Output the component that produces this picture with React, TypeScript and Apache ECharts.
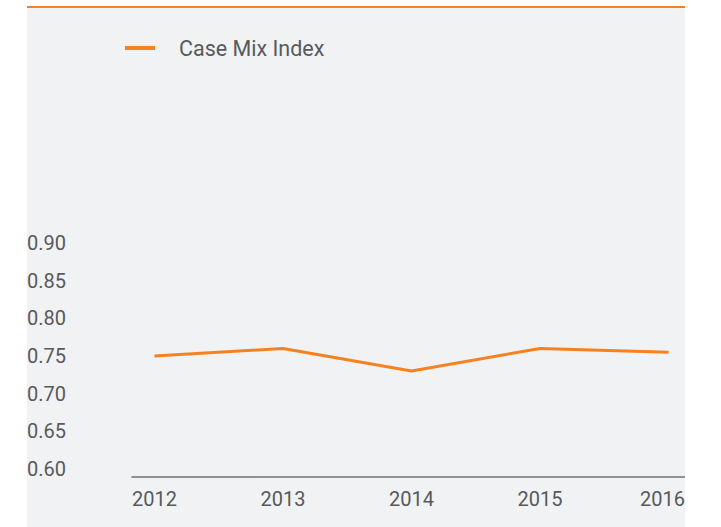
import React, { useEffect, useRef } from "react";
import * as echarts from "echarts";

const years = [2012, 2013, 2014, 2015, 2016];
const caseMixIndex = [0.75, 0.76, 0.73, 0.76, 0.755];
const seriesName = "Case Mix Index";

const ORANGE = "#f58220";
const TEXT = "#58595b";

export default function App() {
  const ref = useRef<HTMLDivElement>(null);
  useEffect(() => {
    if (!ref.current) return;
    const chart = echarts.init(ref.current, null, { renderer: "svg" });
    const lastYear = years[years.length - 1];
    chart.setOption({
      animation: false,
      backgroundColor: "#ffffff",
      textStyle: { fontFamily: "Roboto" },
      graphic: [
        {
          type: "rect",
          z: -10,
          silent: true,
          shape: { x: 27, y: 7, width: 658, height: 520 },
          style: { fill: "#f1f2f4" },
        },
        {
          type: "rect",
          z: -9,
          silent: true,
          shape: { x: 27, y: 6, width: 658, height: 2 },
          style: { fill: ORANGE },
        },
      ],
      legend: {
        left: 120,
        top: 32,
        icon: "rect",
        itemWidth: 30,
        itemHeight: 4,
        data: [seriesName],
        textStyle: {
          color: TEXT,
          fontSize: 21.5,
          fontFamily: "Roboto",
          padding: [0, 0, 0, 19],
        },
      },
      grid: { left: 132, right: 0, top: 243, bottom: 58, outerBoundsMode: "none" },
      xAxis: {
        type: "value",
        min: 2011.825,
        max: 2016.128,
        offset: 8,
        axisLine: { show: true, lineStyle: { color: "#707070", width: 1.5 } },
        axisTick: { show: false },
        splitLine: { show: false },
        axisLabel: {
          customValues: years,
          formatter: (v: number) =>
            v === lastYear ? `{last|${v}}` : String(v),
          color: TEXT,
          fontSize: 20,
          fontFamily: "Roboto",
          margin: 12,
          rich: {
            last: {
              color: TEXT,
              fontSize: 20,
              fontFamily: "Roboto",
              padding: [0, 12, 0, 0],
            },
          },
        },
      },
      yAxis: {
        type: "value",
        min: 0.6,
        max: 0.9,
        interval: 0.05,
        axisLine: { show: false },
        axisTick: { show: false },
        splitLine: { show: false },
        axisLabel: {
          formatter: (v: number) => v.toFixed(2),
          color: TEXT,
          fontSize: 20,
          fontFamily: "Roboto",
          align: "left",
          margin: 105,
        },
      },
      series: [
        {
          name: seriesName,
          type: "line",
          data: years.map((y, i) => [y, caseMixIndex[i]]),
          showSymbol: false,
          symbol: "none",
          lineStyle: { color: ORANGE, width: 3 },
          itemStyle: { color: ORANGE },
        },
      ],
    });
    return () => chart.dispose();
  }, []);
  return (
    <div
      ref={ref}
      style={{ position: "absolute", left: 0, top: 0, width: 685, height: 527 }}
    />
  );
}
